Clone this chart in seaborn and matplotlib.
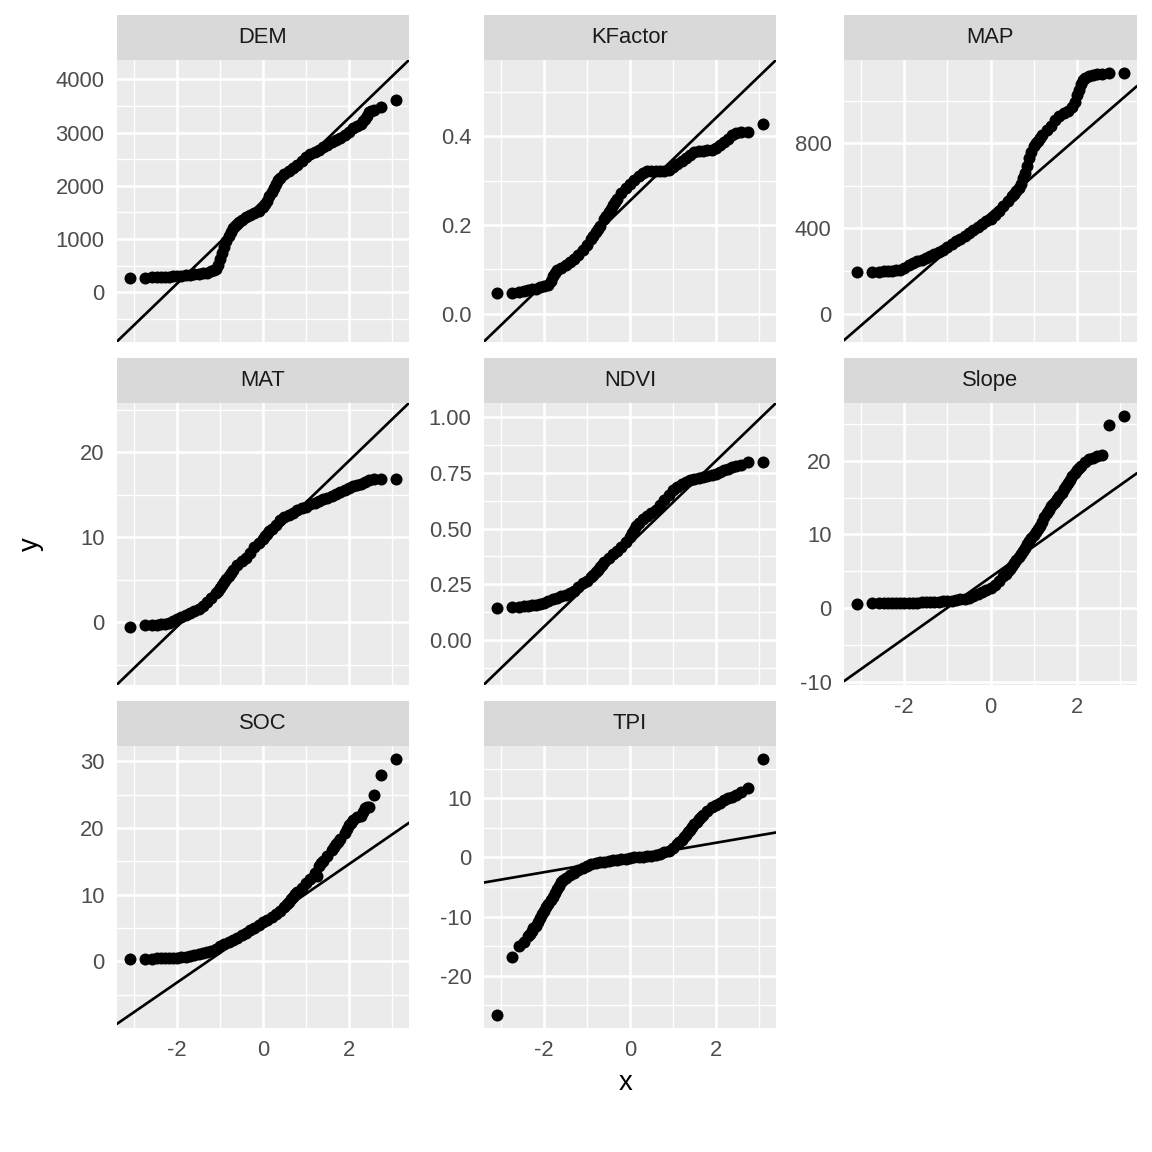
import numpy as np
import pandas as pd
import matplotlib
matplotlib.use("Agg")
import matplotlib.pyplot as plt
import seaborn as sns
from matplotlib.ticker import FixedLocator, FixedFormatter

# ---------------- data ----------------
variables = ["DEM", "KFactor", "MAP", "MAT", "NDVI", "Slope", "SOC", "TPI"]

theoretical = [-3.09, -2.75, -2.58, -2.46, -2.37, -2.29,
               -2.2, -2.1, -2.0, -1.9, -1.8, -1.7, -1.6, -1.5, -1.4, -1.3,
               -1.2, -1.1, -1.0, -0.9, -0.8, -0.7, -0.6, -0.5, -0.4, -0.3,
               -0.2, -0.1, 0.0, 0.1, 0.2, 0.3, 0.4, 0.5, 0.6, 0.7,
               0.8, 0.9, 1.0, 1.1, 1.2, 1.3, 1.4, 1.5, 1.6, 1.7,
               1.8, 1.9, 2.0, 2.1, 2.2,
               2.29, 2.37, 2.46, 2.58, 2.75, 3.09]

dem = [260, 275, 280, 285, 288, 290,
       295, 300, 305, 312, 320, 328, 336, 345, 355, 368,
       395, 440, 620, 850, 1060, 1200, 1290, 1360, 1410, 1450,
       1490, 1530, 1600, 1720, 1880, 2040, 2150, 2220, 2270, 2330,
       2400, 2470, 2540, 2590, 2630, 2680, 2720, 2770, 2820, 2860,
       2900, 2960, 3020, 3080, 3130,
       3170, 3250, 3380, 3420, 3480, 3620]

kfactor = [0.048, 0.048, 0.050, 0.052, 0.054, 0.055,
           0.057, 0.060, 0.062, 0.066, 0.085, 0.098, 0.103, 0.110, 0.116, 0.123,
           0.132, 0.145, 0.155, 0.168, 0.185, 0.198, 0.213, 0.229, 0.245, 0.260,
           0.272, 0.283, 0.292, 0.302, 0.310, 0.318, 0.321, 0.321, 0.321, 0.321,
           0.322, 0.325, 0.330, 0.337, 0.345, 0.352, 0.358, 0.364, 0.367, 0.368,
           0.369, 0.370, 0.374, 0.380, 0.388,
           0.395, 0.403, 0.408, 0.410, 0.411, 0.429]

map_ = [193, 193, 196, 198, 200, 202,
        203, 206, 215, 230, 238, 245, 252, 260, 268, 278,
        288, 299, 312, 326, 339, 352, 364, 377, 392, 407,
        421, 433, 445, 462, 482, 505, 530, 550, 575, 610,
        660, 730, 785, 812, 840, 862, 882, 910, 930, 942,
        952, 970, 1025, 1080, 1105,
        1115, 1120, 1124, 1127, 1130, 1131]

mat = [-0.55, -0.3, -0.28, -0.25, -0.22, -0.2,
       -0.1, 0.2, 0.45, 0.65, 0.85, 1.05, 1.3, 1.6, 1.95, 2.35,
       2.85, 3.4, 4.0, 4.7, 5.4, 6.2, 6.8, 7.2, 7.6, 8.2,
       8.8, 9.3, 9.8, 10.4, 11.0, 11.5, 12.0, 12.35, 12.6, 12.85,
       13.15, 13.4, 13.6, 13.85, 14.05, 14.25, 14.45, 14.65, 14.85, 15.1,
       15.35, 15.6, 15.8, 16.0, 16.15,
       16.3, 16.5, 16.7, 16.8, 16.8, 16.9]

ndvi = [0.143, 0.149, 0.150, 0.152, 0.155, 0.158,
        0.160, 0.162, 0.166, 0.175, 0.184, 0.190, 0.196, 0.203, 0.211, 0.222,
        0.240, 0.255, 0.266, 0.282, 0.305, 0.328, 0.350, 0.368, 0.384, 0.400,
        0.418, 0.438, 0.462, 0.495, 0.525, 0.542, 0.556, 0.568, 0.585, 0.605,
        0.630, 0.652, 0.672, 0.686, 0.698, 0.708, 0.716, 0.722, 0.728, 0.732,
        0.736, 0.740, 0.746, 0.753, 0.760,
        0.768, 0.775, 0.780, 0.786, 0.796, 0.796]

slope = [0.58, 0.63, 0.65, 0.66, 0.67, 0.68,
         0.69, 0.70, 0.71, 0.72, 0.74, 0.75, 0.77, 0.79, 0.81, 0.83,
         0.86, 0.90, 0.95, 1.02, 1.10, 1.20, 1.30, 1.42, 1.60, 1.85,
         2.15, 2.45, 2.75, 3.2, 3.7, 4.3, 5.0, 5.7, 6.5, 7.3,
         8.2, 9.1, 9.9, 10.7, 11.7, 12.9, 13.8, 14.4, 15.2, 16.1,
         17.0, 17.9, 18.7, 19.3, 19.8,
         20.2, 20.4, 20.6, 20.8, 24.9, 26.1]

soc = [0.4, 0.4, 0.4, 0.42, 0.44, 0.46,
       0.48, 0.5, 0.53, 0.57, 0.65, 0.75, 0.88, 1.03, 1.2, 1.4,
       1.6, 1.9, 2.25, 2.55, 2.85, 3.15, 3.5, 3.9, 4.25, 4.65,
       5.05, 5.45, 5.85, 6.25, 6.7, 7.1, 7.55, 8.2, 8.9, 9.7,
       10.4, 11.0, 11.7, 12.4, 13.2, 14.3, 15.1, 15.8, 16.7, 17.6,
       18.3, 19.3, 20.4, 21.2, 21.6,
       21.8, 23.0, 23.2, 25.0, 27.9, 30.4]

tpi = [-26.6, -16.9, -15.0, -14.3, -13.3, -12.5,
       -11.6, -10.2, -9.0, -7.8, -6.6, -5.3, -4.2, -3.5, -3.0, -2.6,
       -2.2, -1.8, -1.4, -1.15, -0.95, -0.8, -0.7, -0.6, -0.5, -0.4,
       -0.3, -0.2, -0.1, 0.0, 0.1, 0.15, 0.2, 0.3, 0.45, 0.6,
       0.85, 1.15, 1.6, 2.3, 3.0, 3.8, 4.7, 5.6, 6.5, 7.2,
       7.9, 8.5, 8.9, 9.3, 9.7,
       10.0, 10.3, 10.6, 11.0, 11.7, 16.7]

# extra sample points where the curve is steep
dem_extra_x = [-1.15, -1.05, -0.95, -0.85, -0.75, -0.65, -0.55, 0.05, 0.15, 0.25, 0.35, 2.33, 2.42, 2.52]
dem_extra_y = [415, 520, 735, 955, 1135, 1250, 1325, 1655, 1800, 1960, 2100, 3210, 3320, 3400]
kfactor_extra_x = [-1.85, -1.75, -0.85, -0.75, -0.55, -0.45, -0.35]
kfactor_extra_y = [0.075, 0.092, 0.176, 0.191, 0.221, 0.237, 0.252]
map_extra_x = [0.55, 0.65, 0.75, 0.85, 0.95, 1.05, 1.15, 1.95, 2.05, 2.15]
map_extra_y = [562, 592, 635, 695, 758, 800, 826, 995, 1052, 1095]
mat_extra_x = [-1.05, -0.95, -0.85, -0.75, 0.05, 0.15]
mat_extra_y = [3.7, 4.35, 5.05, 5.8, 10.1, 10.7]
ndvi_extra_x = [-0.85, -0.75, -0.65, 0.05, 0.15]
ndvi_extra_y = [0.293, 0.316, 0.339, 0.478, 0.510]
slope_extra_x = [0.35, 0.45, 0.55, 0.65, 0.75, 0.85, 0.95, 1.05, 1.15, 1.25,
                 1.35, 1.45, 1.55, 1.65, 1.75, 1.85, 1.95, 2.05]
slope_extra_y = [4.65, 5.35, 6.1, 6.9, 7.75, 8.65, 9.5, 10.3, 11.2, 12.3,
                 13.35, 14.1, 14.8, 15.65, 16.55, 17.45, 18.3, 19.0]
soc_extra_x = [0.55, 0.65, 0.75, 1.25, 1.35, 1.65, 1.75, 1.95, 2.05, 2.33, 2.42]
soc_extra_y = [8.55, 9.3, 10.05, 12.75, 14.7, 17.15, 17.95, 19.85, 20.8, 22.4, 23.1]
tpi_extra_x = [-2.33, -2.25, -2.15, -2.05, -1.95, -1.85, -1.75, -1.65, -1.55,
               1.15, 1.25, 1.35, 1.45, 1.55, 1.65]
tpi_extra_y = [-12.9, -12.0, -10.9, -9.6, -8.4, -7.2, -5.95, -4.75, -3.85,
               2.65, 3.4, 4.25, 5.15, 6.05, 6.85]

samples = [dem, kfactor, map_, mat, ndvi, slope, soc, tpi]
extras_x = [dem_extra_x, kfactor_extra_x, map_extra_x, mat_extra_x,
            ndvi_extra_x, slope_extra_x, soc_extra_x, tpi_extra_x]
extras_y = [dem_extra_y, kfactor_extra_y, map_extra_y, mat_extra_y,
            ndvi_extra_y, slope_extra_y, soc_extra_y, tpi_extra_y]

# sample quartiles used for the reference (qq) line
quart_q1 = [1194, 0.192, 353, 5.96, 0.307, 1.40, 2.70, -0.84]
quart_q3 = [2244, 0.318, 590, 12.52, 0.557, 7.00, 8.69, 0.84]

# tick labels
x_ticks = [-2, 0, 2]
x_tick_labels = ["-2", "0", "2"]
y_tick_labels = {
    "DEM": ["0", "1000", "2000", "3000", "4000"],
    "KFactor": ["0.0", "0.2", "0.4"],
    "MAP": ["0", "400", "800"],
    "MAT": ["0", "10", "20"],
    "NDVI": ["0.00", "0.25", "0.50", "0.75", "1.00"],
    "Slope": ["-10", "0", "10", "20"],
    "SOC": ["0", "10", "20", "30"],
    "TPI": ["-20", "-10", "0", "10"],
}

frames = []
for v, s, ex, ey in zip(variables, samples, extras_x, extras_y):
    frames.append(pd.DataFrame({"x": list(theoretical) + list(ex),
                                "y": list(s) + list(ey), "variable": v}))
df = pd.concat(frames, ignore_index=True)

# ---------------- style ----------------
sns.set_theme(style="darkgrid")
plt.rcParams["font.family"] = ["Liberation Sans", "DejaVu Sans"]

W = H = 1152
fig = plt.figure(figsize=(8, 8), dpi=144)
fig.patch.set_facecolor("white")

col_left = [117, 484, 844]
col_right = [409, 776, 1137]
strip_top = [15, 358, 701]
panel_top = [60, 403, 746]
panel_bot = [341.5, 684.5, 1027.5]

SC = 1.25
LW_MAJOR = 1.07 * SC
LW_MINOR = 0.535 * SC
FS_TICK = 8.8 * SC
FS_TITLE = 11 * SC
bottom_panels = {"Slope", "SOC", "TPI"}
Z = 0.6745

xmin_d, xmax_d = min(theoretical), max(theoretical)
xr = xmax_d - xmin_d
xlim = (xmin_d - 0.05 * xr, xmax_d + 0.05 * xr)

for i, var in enumerate(variables):
    r, c = divmod(i, 3)
    L, R = col_left[c], col_right[c]
    T, B = panel_top[r], panel_bot[r]
    ax = fig.add_axes([L / W, 1 - B / H, (R - L) / W, (B - T) / H])
    sax = fig.add_axes([L / W, 1 - T / H, (R - L) / W, (T - strip_top[r]) / H])

    # strip
    sax.set_facecolor("#D9D9D9")
    sax.set_xticks([]); sax.set_yticks([])
    for sp in sax.spines.values():
        sp.set_visible(False)
    sax.grid(False)
    sax.text(0.5, 0.5, var, ha="center", va="center", fontsize=FS_TICK,
             color="#1A1A1A", transform=sax.transAxes)

    sub = df[df["variable"] == var]
    q1, q3 = quart_q1[i], quart_q3[i]
    b = (q3 - q1) / (2 * Z)
    a = q1 + b * Z

    ax.set_facecolor("#EBEBEB")
    for sp in ax.spines.values():
        sp.set_visible(False)
    ax.set_axisbelow(True)

    sns.scatterplot(data=sub, x="x", y="y", ax=ax, color="black", s=36,
                    linewidth=0, zorder=3, legend=False)
    lx = np.array(xlim)
    ax.plot(lx, a + b * lx, color="black", lw=LW_MAJOR, zorder=4)

    # y-limits like ggplot: data + line at data x-range, expanded 5%
    yvals = list(sub["y"]) + [a + b * xmin_d, a + b * xmax_d]
    ymn, ymx = min(yvals), max(yvals)
    yr = ymx - ymn
    ax.set_xlim(*xlim)
    ax.set_ylim(ymn - 0.05 * yr, ymx + 0.05 * yr)

    labs = y_tick_labels[var]
    yt = [float(t) for t in labs]
    step = yt[1] - yt[0]
    yminor = [yt[0] - step / 2] + [t + step / 2 for t in yt]
    ax.yaxis.set_major_locator(FixedLocator(yt))
    ax.yaxis.set_major_formatter(FixedFormatter(labs))
    ax.yaxis.set_minor_locator(FixedLocator(yminor))
    ax.xaxis.set_major_locator(FixedLocator(x_ticks))
    ax.xaxis.set_major_formatter(FixedFormatter(x_tick_labels))
    ax.xaxis.set_minor_locator(FixedLocator([-3, -1, 1, 3]))

    ax.grid(True, which="major", color="white", lw=LW_MAJOR)
    ax.grid(True, which="minor", color="white", lw=LW_MINOR)
    ax.tick_params(which="major", length=2.75 * SC, width=LW_MAJOR,
                   color="#333333", labelsize=FS_TICK, labelcolor="#4D4D4D",
                   pad=2.2 * SC)
    ax.tick_params(which="minor", length=0)
    if var not in bottom_panels:
        ax.tick_params(axis="x", which="both", length=0, labelbottom=False)
    ax.set_xlabel("")
    ax.set_ylabel("")

fig.text(626 / W, 1 - 1083 / H, "x", ha="center", va="center",
         fontsize=FS_TITLE, color="black")
fig.text(31 / W, 1 - 544 / H, "y", ha="center", va="center",
         fontsize=FS_TITLE, color="black", rotation=90)

fig.savefig("out.png", dpi=144, facecolor="white")
